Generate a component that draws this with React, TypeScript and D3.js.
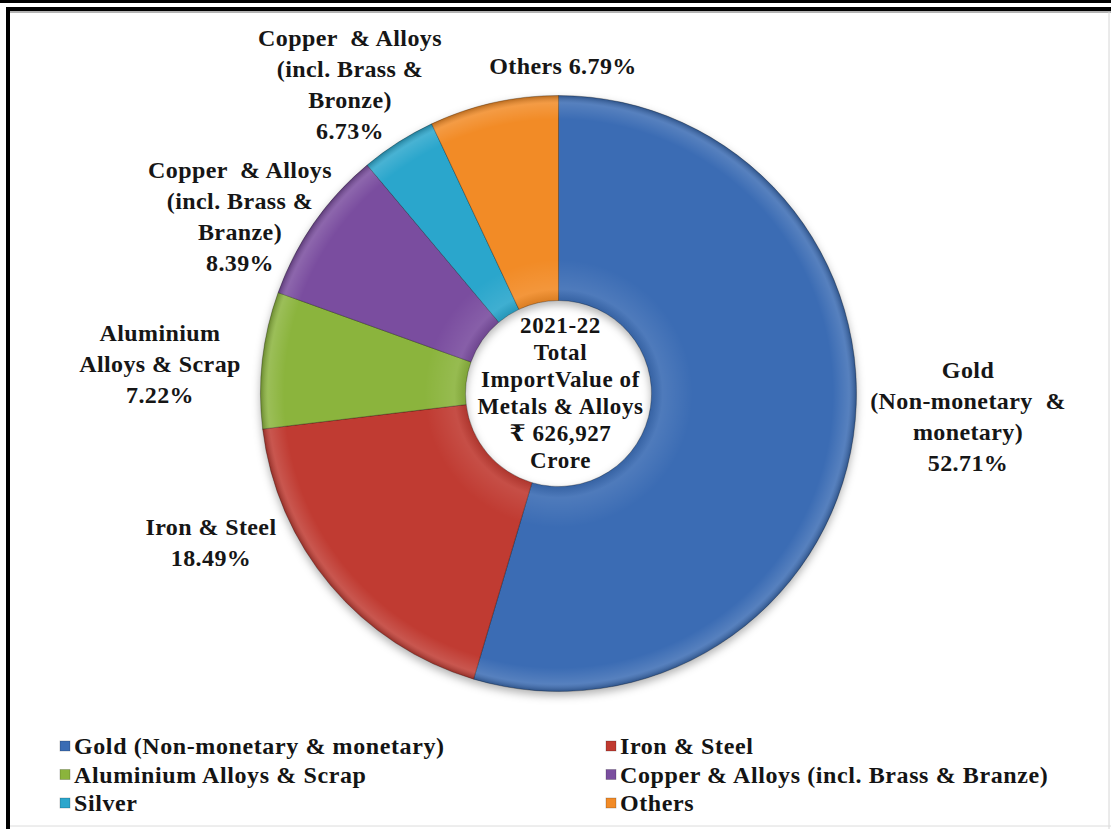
import * as d3 from 'd3';
import React, { useEffect, useRef } from 'react';

// slice sizes as they are drawn in the picture (the printed labels differ slightly)
const categories = [
    'Gold (Non-monetary & monetary)',
    'Iron & Steel',
    'Aluminium Alloys & Scrap',
    'Copper & Alloys (incl. Brass & Branze)',
    'Silver',
    'Others',
];
const shares = [54.6, 18.5, 7.4, 8.4, 4.1, 7.0];
const pctLabels = ['52.71%', '18.49%', '7.22%', '8.39%', '6.73%', '6.79%'];
const sliceNames = [
    ['Gold', '(Non-monetary  &', 'monetary)'],
    ['Iron & Steel'],
    ['Aluminium', 'Alloys & Scrap'],
    ['Copper  & Alloys', '(incl. Brass &', 'Branze)'],
    ['Copper  & Alloys', '(incl. Brass &', 'Bronze)'],
    [],
];
const colors = ['#3a6cb4', '#c03a30', '#8bb43c', '#7a4e9f', '#2ba6cc', '#f28b27'];
const centerLines = ['2021-22', 'Total', 'ImportValue of', 'Metals & Alloys', '₹ 626,927', 'Crore'];

const W = 1111;
const H = 829;
const FONT = "'Liberation Serif', 'Times New Roman', 'DejaVu Serif', serif";

// where each slice label block sits (centre x, first line y)
const labelAnchor: [number, number][] = [
    [968, 370],
    [211, 527],
    [160, 333],
    [240, 170],
    [350, 38],
    [563, 66],
];

const App: React.FC = () => {
    const svgRef = useRef<SVGSVGElement | null>(null);

    useEffect(() => {
        if (!svgRef.current) return;
        const svg = d3.select(svgRef.current);
        svg.selectAll('*').remove();

        // frame
        svg.append('rect').attr('width', W).attr('height', H).attr('fill', '#fff');
        svg.append('rect').attr('x', 0).attr('y', 0).attr('width', W).attr('height', 3).attr('fill', '#000');
        svg.append('rect').attr('x', 6).attr('y', 7).attr('width', W - 6).attr('height', 4).attr('fill', '#000');
        svg.append('rect').attr('x', 6).attr('y', 7).attr('width', 4).attr('height', H - 7).attr('fill', '#000');
        svg.append('line').attr('x1', 10).attr('x2', W).attr('y1', 12).attr('y2', 12).attr('stroke', '#9a9a9a').attr('stroke-width', 1.5);
        svg.append('line').attr('x1', W - 2).attr('x2', W - 2).attr('y1', 12).attr('y2', H).attr('stroke', '#d6d6d6');
        svg.append('line').attr('x1', 10).attr('x2', W).attr('y1', H - 3).attr('y2', H - 3).attr('stroke', '#dcdcdc');

        const cx = 558.5;
        const cy = 393.5;
        const outerR = 298;
        const innerR = 93;

        const defs = svg.append('defs');
        const shadow = defs.append('filter').attr('id', 'shadow').attr('x', '-10%').attr('y', '-10%').attr('width', '120%').attr('height', '125%');
        shadow.append('feDropShadow').attr('dx', 0).attr('dy', 4).attr('stdDeviation', 4).attr('flood-color', '#000').attr('flood-opacity', 0.3);

        // soft bevel on the inner and outer rims, centred on the pie's own origin
        const bevel = defs
            .append('radialGradient')
            .attr('id', 'bevel')
            .attr('gradientUnits', 'userSpaceOnUse')
            .attr('cx', 0)
            .attr('cy', 0)
            .attr('r', outerR);
        [
            [0.31, '#000', 0.1],
            [0.35, '#fff', 0.1],
            [0.45, '#fff', 0],
            [0.92, '#fff', 0],
            [0.975, '#fff', 0.14],
            [1, '#000', 0.24],
        ].forEach(([o, c, a]) => {
            bevel.append('stop').attr('offset', o as number).attr('stop-color', c as string).attr('stop-opacity', a as number);
        });

        const pie = d3
            .pie<number>()
            .sort(null)
            .value((d) => d);
        const arc = d3.arc<d3.PieArcDatum<number>>().innerRadius(innerR).outerRadius(outerR);
        const arcs = pie(shares);

        const g = svg.append('g').attr('transform', `translate(${cx},${cy})`);
        g.append('g')
            .attr('filter', 'url(#shadow)')
            .selectAll('path')
            .data(arcs)
            .join('path')
            .attr('d', arc)
            .attr('fill', (_, i) => colors[i])
            .attr('stroke', 'rgba(0,0,0,0.28)')
            .attr('stroke-width', 1);
        g.append('g')
            .selectAll('path')
            .data(arcs)
            .join('path')
            .attr('d', arc)
            .attr('fill', 'url(#bevel)');

        // centre text
        const center = svg
            .append('text')
            .attr('font-family', FONT)
            .attr('font-weight', 'bold')
            .attr('font-size', 23)
            .attr('letter-spacing', 0.6)
            .attr('fill', '#141414')
            .attr('text-anchor', 'middle');
        centerLines.forEach((line, i) => {
            center
                .append('tspan')
                .attr('x', cx + 2)
                .attr('y', 325 + i * 27)
                .attr('dy', '0.35em')
                .text(line);
        });

        // slice labels
        arcs.forEach((_, i) => {
            const lines = [...sliceNames[i]];
            if (lines.length === 0) lines.push(`Others ${pctLabels[i]}`);
            else lines.push(pctLabels[i]);
            const [lx, ly] = labelAnchor[i];
            const t = svg
                .append('text')
                .attr('font-family', FONT)
                .attr('font-weight', 'bold')
                .attr('font-size', 24)
                .attr('letter-spacing', 0.4)
                .attr('fill', '#161616')
                .attr('text-anchor', 'middle');
            lines.forEach((line, j) => {
                t.append('tspan')
                    .attr('x', lx)
                    .attr('y', ly + j * 31)
                    .attr('dy', '0.35em')
                    .style('white-space', 'pre')
                    .text(line);
            });
        });

        // legend, two columns
        const legendX = [60, 606];
        const legendY = 746;
        const rowH = 28.5;
        categories.forEach((name, i) => {
            const col = i % 2;
            const row = Math.floor(i / 2);
            const y = legendY + row * rowH;
            const item = svg.append('g').attr('transform', `translate(${legendX[col]},${y})`);
            item.append('rect')
                .attr('x', 0)
                .attr('y', -5)
                .attr('width', 10)
                .attr('height', 10)
                .attr('fill', colors[i])
                .attr('stroke', 'rgba(0,0,0,0.25)')
                .attr('stroke-width', 0.8);
            item.append('text')
                .attr('x', 14)
                .attr('dy', '0.35em')
                .attr('font-family', FONT)
                .attr('font-weight', 'bold')
                .attr('font-size', 24)
                .attr('letter-spacing', 0.6)
                .attr('fill', '#141414')
                .text(name);
        });
    }, []);

    return (
        <div style={{ position: 'absolute', left: 0, top: 0 }}>
            <svg ref={svgRef} width={W} height={H} style={{ display: 'block' }} />
        </div>
    );
};

export default App;
